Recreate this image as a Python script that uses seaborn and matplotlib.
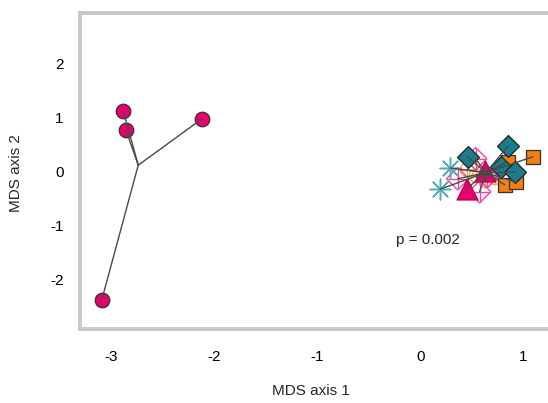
import numpy as np
import pandas as pd
import matplotlib
matplotlib.use("Agg")
import matplotlib.pyplot as plt
import seaborn as sns

# === DATA ===
# left site: pink circles
circle_x = [-2.878, -2.852, -2.118, -3.087]
circle_y = [1.107, 0.756, 0.967, -2.380]

# right site, six symbol groups
diamond_x = [0.849, 0.458, 0.778, 0.914]
diamond_y = [0.463, 0.268, 0.083, -0.020]
square_x = [1.091, 0.846, 0.817, 0.930]
square_y = [0.268, 0.176, -0.250, -0.204]
triangle_x = [0.449, 0.623]
triangle_y = [-0.324, 0.010]
aster_x = [0.291, 0.194]
aster_y = [0.060, -0.330]
opendia_x = [0.536, 0.362, 0.575, 0.650]
opendia_y = [0.231, -0.139, -0.380, -0.100]
ocircle_x = [0.455, 0.540, 0.630, 0.720]
ocircle_y = [0.028, -0.083, -0.176, -0.120]

p_label = "p = 0.002"
x_ticks = [-3, -2, -1, 0, 1]
y_ticks = [-2, -1, 0, 1, 2]

PINK = "#e8006c"
TEAL = "#1a7d8c"
ORANGE = "#f37f10"
LTEAL = "#58aebb"
LORANGE = "#f5a650"
LPINK = "#f0479c"

sns.set_style("white")
plt.rcParams['font.family'] = ['Liberation Sans', 'DejaVu Sans']

fig = plt.figure(figsize=(5.48, 4.03), dpi=100)
ax = fig.add_axes([0.1466, 0.1836, 0.884, 0.783])

left = pd.DataFrame({'x': circle_x, 'y': circle_y})
right = pd.DataFrame({
    'x': diamond_x + square_x + triangle_x + aster_x + opendia_x + ocircle_x,
    'y': diamond_y + square_y + triangle_y + aster_y + opendia_y + ocircle_y,
})

# === POINTS ===
sns.scatterplot(data=left, x='x', y='y', ax=ax, marker='o', s=110,
                color=PINK, edgecolor='#333333', linewidth=0.9, zorder=3)

sns.scatterplot(x=ocircle_x, y=ocircle_y, ax=ax, marker='o', s=95,
                facecolor='none', edgecolor=LORANGE, linewidth=1.0, zorder=3)
sns.scatterplot(x=ocircle_x, y=ocircle_y, ax=ax, marker='+', s=95,
                color=LORANGE, linewidth=1.0, zorder=3)
sns.scatterplot(x=opendia_x, y=opendia_y, ax=ax, marker='D', s=130,
                facecolor='none', edgecolor=LPINK, linewidth=1.0, zorder=3)
sns.scatterplot(x=opendia_x, y=opendia_y, ax=ax, marker='+', s=200,
                color=LPINK, linewidth=1.0, zorder=3)
sns.scatterplot(x=aster_x, y=aster_y, ax=ax, marker=(8, 2, 0), s=220,
                color=LTEAL, edgecolor=LTEAL, linewidth=1.1, zorder=3)
sns.scatterplot(x=square_x, y=square_y, ax=ax, marker='s', s=115,
                color=ORANGE, edgecolor='#333333', linewidth=0.9, zorder=3)
sns.scatterplot(x=diamond_x, y=diamond_y, ax=ax, marker='D', s=125,
                color=TEAL, edgecolor='#222222', linewidth=0.9, zorder=3)
sns.scatterplot(x=triangle_x, y=triangle_y, ax=ax, marker='^', s=230,
                color=PINK, edgecolor='#b0004f', linewidth=0.8, zorder=3)

# === SPIDERS to group centroids ===
for grp in (left, right):
    cx, cy = grp['x'].mean(), grp['y'].mean()
    for px, py in zip(grp['x'], grp['y']):
        ax.plot([cx, px], [cy, py], color='#4a4a4a', lw=1.0, zorder=4)

ax.text(0.07, -1.27, p_label, ha='center', va='center', fontsize=11)

# === AXES STYLE ===
ax.set_xlim(-3.295, 1.40)
ax.set_ylim(-2.92, 2.92)
ax.set_xticks(x_ticks)
ax.set_yticks(y_ticks)
ax.set_xticklabels([str(t) for t in x_ticks])
ax.set_yticklabels([str(t) for t in y_ticks])
for side in ['left', 'top', 'bottom', 'right']:
    ax.spines[side].set_color('#c8c8c8')
    ax.spines[side].set_linewidth(2.8)
ax.tick_params(axis='both', direction='out', length=6, width=0.8,
               color='#c8c8c8', labelsize=11, labelcolor='black')
ax.tick_params(axis='x', pad=9)
ax.tick_params(axis='y', pad=6)
ax.set_xlabel('MDS axis 1', fontsize=11)
ax.set_ylabel('MDS axis 2', fontsize=11)
ax.xaxis.set_label_coords(0.475, -0.175)
ax.yaxis.set_label_coords(-0.118, 0.494)

fig.savefig('out.png', dpi=100)
